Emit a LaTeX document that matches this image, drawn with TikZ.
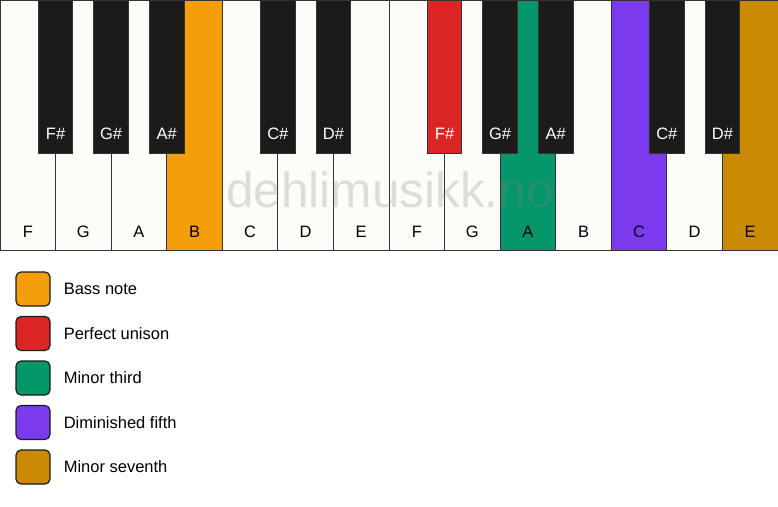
\documentclass[tikz,border=0pt]{standalone}
\usepackage{fontspec}
\setmainfont{Liberation Sans}
\usetikzlibrary{positioning}
\definecolor{keywhite}{HTML}{FDFCF8}
\definecolor{keyblack}{HTML}{1C1B19}
\definecolor{keyline}{HTML}{333333}
\definecolor{bassnote}{HTML}{F59E0B}
\definecolor{unison}{HTML}{DC2626}
\definecolor{minthird}{HTML}{059669}
\definecolor{dimfifth}{HTML}{7C3AED}
\definecolor{minseventh}{HTML}{CA8A04}
\tikzstyle{wk}=[draw=keyline, line width=1pt, fill=keywhite, inner sep=0pt, minimum width=55.57pt, minimum height=250pt]
\tikzstyle{bk}=[draw=keyline, line width=0.8pt, fill=keyblack, inner sep=0pt, minimum width=34.5pt, minimum height=153pt]
\tikzstyle{wl}=[font=\fontsize{16.5}{19}\selectfont, text=black]
\tikzstyle{bl}=[font=\fontsize{16.5}{19}\selectfont, text=white]
\tikzstyle{sw}=[draw=keyblack, line width=1.2pt, rounded corners=5pt, inner sep=0pt, minimum size=34pt]
\tikzstyle{lt}=[font=\fontsize{16.5}{19}\selectfont, anchor=west, inner sep=0pt]

\begin{document}
\begin{tikzpicture} [x=1pt, y=-1pt]
%%position
\useasboundingbox (0,0) rectangle (778,506);
%%white keys
\node[wk] (wF1) at (27.79,125) {};
\node[wk] (wG1) at (83.36,125) {};
\node[wk] (wA1) at (138.93,125) {};
\node[wk, fill=bassnote] (wB1) at (194.50,125) {};
\node[wk] (wC1) at (250.07,125) {};
\node[wk] (wD1) at (305.64,125) {};
\node[wk] (wE1) at (361.21,125) {};
\node[wk] (wF2) at (416.79,125) {};
\node[wk] (wG2) at (472.36,125) {};
\node[wk, fill=minthird] (wA2) at (527.93,125) {};
\node[wk] (wB2) at (583.50,125) {};
\node[wk, fill=dimfifth] (wC2) at (639.07,125) {};
\node[wk] (wD2) at (694.64,125) {};
\node[wk, fill=minseventh] (wE2) at (750.21,125) {};
%%white names
\node[wl] at ([yshift=19pt]wF1.south) {F};
\node[wl] at ([yshift=19pt]wG1.south) {G};
\node[wl] at ([yshift=19pt]wA1.south) {A};
\node[wl] at ([yshift=19pt]wB1.south) {B};
\node[wl] at ([yshift=19pt]wC1.south) {C};
\node[wl] at ([yshift=19pt]wD1.south) {D};
\node[wl] at ([yshift=19pt]wE1.south) {E};
\node[wl] at ([yshift=19pt]wF2.south) {F};
\node[wl] at ([yshift=19pt]wG2.south) {G};
\node[wl] at ([yshift=19pt]wA2.south) {A};
\node[wl] at ([yshift=19pt]wB2.south) {B};
\node[wl] at ([yshift=19pt]wC2.south) {C};
\node[wl] at ([yshift=19pt]wD2.south) {D};
\node[wl] at ([yshift=19pt]wE2.south) {E};
%%watermark
\node[font=\fontsize{49.5}{55}\selectfont, text=gray, opacity=0.25] (mark) at (390,190) {dehlimusikk.no};
%%black keys
\node[bk] (bF1) at (55.57,76.5) {};
\node[bk] (bG1) at (111.14,76.5) {};
\node[bk] (bA1) at (166.71,76.5) {};
\node[bk] (bC1) at (277.86,76.5) {};
\node[bk] (bD1) at (333.43,76.5) {};
\node[bk, fill=unison] (bF2) at (444.57,76.5) {};
\node[bk] (bG2) at (500.14,76.5) {};
\node[bk] (bA2) at (555.71,76.5) {};
\node[bk] (bC2) at (666.86,76.5) {};
\node[bk] (bD2) at (722.43,76.5) {};
%%black names
\node[bl] at ([yshift=20pt]bF1.south) {F\#};
\node[bl] at ([yshift=20pt]bG1.south) {G\#};
\node[bl] at ([yshift=20pt]bA1.south) {A\#};
\node[bl] at ([yshift=20pt]bC1.south) {C\#};
\node[bl] at ([yshift=20pt]bD1.south) {D\#};
\node[bl] at ([yshift=20pt]bF2.south) {F\#};
\node[bl] at ([yshift=20pt]bG2.south) {G\#};
\node[bl] at ([yshift=20pt]bA2.south) {A\#};
\node[bl] at ([yshift=20pt]bC2.south) {C\#};
\node[bl] at ([yshift=20pt]bD2.south) {D\#};
%%legend
\node[sw, fill=bassnote] (sBass) at (33,289) {};
\node[sw, fill=unison] (sUnison) at (33,333.5) {};
\node[sw, fill=minthird] (sThird) at (33,378) {};
\node[sw, fill=dimfifth] (sFifth) at (33,422.5) {};
\node[sw, fill=minseventh] (sSeventh) at (33,467) {};
%%legend names
\node[lt, right=13pt of sBass] {Bass note};
\node[lt, right=13pt of sUnison] {Perfect unison};
\node[lt, right=13pt of sThird] {Minor third};
\node[lt, right=13pt of sFifth] {Diminished fifth};
\node[lt, right=13pt of sSeventh] {Minor seventh};
\end{tikzpicture}
\end{document}
